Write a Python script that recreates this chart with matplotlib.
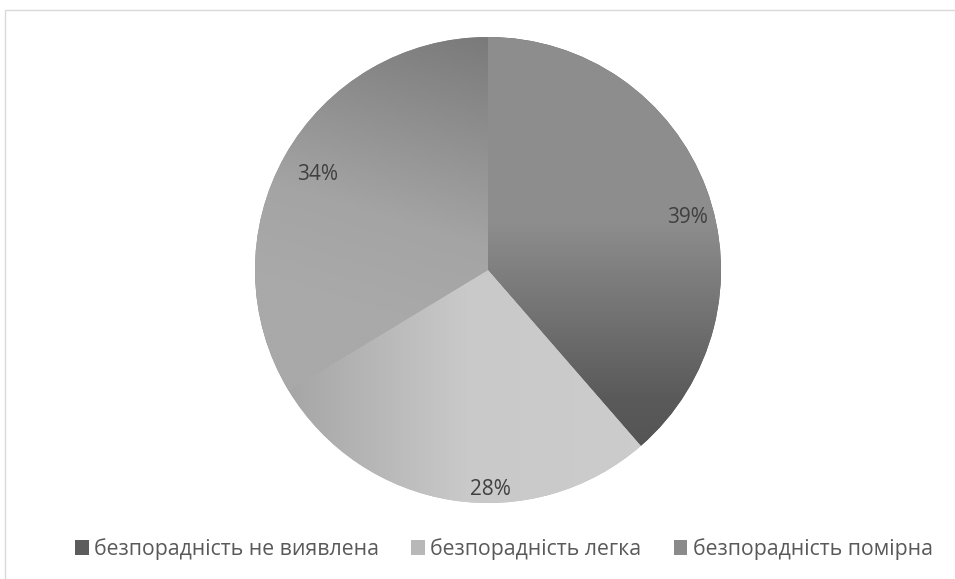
import numpy as np
import matplotlib
matplotlib.use('Agg')
import matplotlib.pyplot as plt
from matplotlib.patches import Rectangle, Patch

labels = ['безпорадність не виявлена', 'безпорадність легка', 'безпорадність помірна']
values = [39, 28, 34]
legend_colors = ['#5c5c5c', '#b8b8b8', '#8a8a8a']

plt.rcParams['font.family'] = ['Open Sans', 'DejaVu Sans']

W, H = 955, 579
fig = plt.figure(figsize=(W/100, H/100), dpi=100)

# light frame round the chart area
fig.patches.append(Rectangle((5/W, -0.1), 1.2, 1.1 - 10/H, transform=fig.transFigure,
                             fill=False, edgecolor='#d9d9d9', lw=1.0))

cx, cy, r = 488, 270, 233
ax = fig.add_axes([(cx - r)/W, (H - cy - r)/H, 2*r/W, 2*r/H])

wedges, _ = ax.pie(values, startangle=90, counterclock=False, radius=1,
                   colors=legend_colors,
                   wedgeprops=dict(edgecolor='none'))
ax.set_aspect('equal')
ax.axis('off')

# gradient shading for every slice
n = 400
gx, gy = np.meshgrid(np.linspace(-1, 1, n), np.linspace(1, -1, n))
shades = [
    np.interp(-gy, [-0.2, 0.55, 0.75], [0x8d, 0x5a, 0x55]),
    np.interp(gx, [-0.85, -0.1, 0.6], [0xa6, 0xc9, 0xcc]),
    np.interp(gy + 0.3*gx, [-0.3, 0.1, 1.0], [0xa9, 0xa4, 0x7a]),
]
for w, s in zip(wedges, shades):
    img = np.dstack([s/255.0]*3)
    im = ax.imshow(img, extent=[-1, 1, -1, 1], zorder=w.get_zorder() + 0.1,
                   interpolation='bilinear')
    im.set_clip_path(w)
ax.set_xlim(-1, 1)
ax.set_ylim(-1, 1)

# slice value labels
label_pos = [(0.858, 0.227), (0.009, -0.944), (-0.730, 0.412)]
for (px, py), v in zip(label_pos, values):
    ax.text(px, py, f'{v}%', ha='center', va='center', fontsize=15,
            color='#404040', zorder=5)

handles = [Patch(facecolor=c, edgecolor='none') for c in legend_colors]
fig.legend(handles, labels, loc='center', bbox_to_anchor=(504/W, 1 - 549/H),
           ncol=3, frameon=False, fontsize=15.3, handlelength=0.65,
           handleheight=0.75, handletextpad=0.25, columnspacing=1.5,
           labelcolor='#595959')

fig.savefig('out.png', dpi=100, facecolor='white')
